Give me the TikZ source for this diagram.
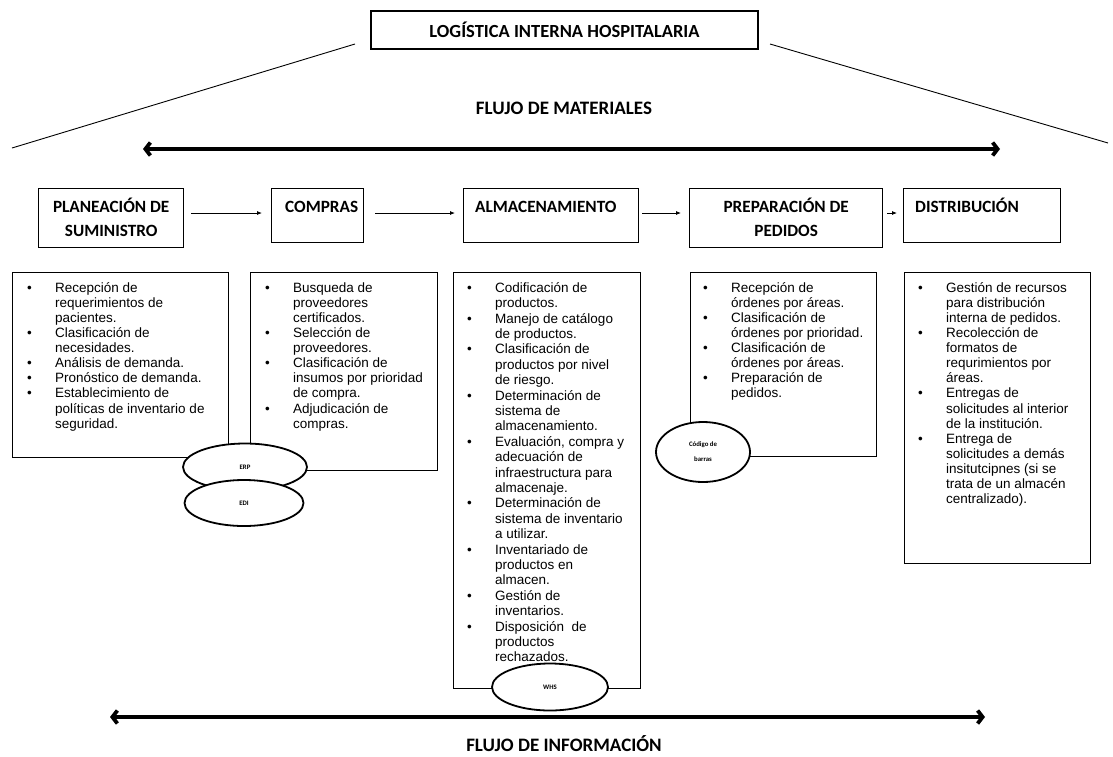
\documentclass[tikz,border=0pt]{standalone}
\usepackage{fontspec}
\setmainfont{Liberation Sans}
\newfontfamily\calib{Carlito}
\usetikzlibrary{arrows.meta,shapes.geometric}

% list lines: bullet line and continuation line, fixed indent
\newcommand\bi{\makebox[28pt][l]{\textbullet}}
\newcommand\ci{\hspace*{28pt}}
\newcommand\firstline{\rule{0pt}{11pt}}
\newcommand\hs{\rule{0pt}{16pt}}
% keep list lines at exactly one baselineskip apart
\newcommand\evenlines{\lineskiplimit=-100pt\relax}

\tikzset{
  titlebox/.style={draw=black, line width=1.3pt, inner sep=0pt,
    font=\calib\bfseries\fontsize{18.5}{22}\selectfont},
  hbox/.style={draw=black, line width=1.4pt, anchor=north west, inner sep=0pt},
  htext/.style={font=\calib\bfseries\fontsize{17.2}{24}\selectfont, inner sep=0pt, align=center},
  cbox/.style={draw=black, line width=1.1pt, fill=white, anchor=north west, inner sep=0pt},
  listtext/.style={font=\fontsize{13.5}{#1}\selectfont\evenlines,
    inner sep=0pt, anchor=north west, align=left},
  listtext/.default=15.1,
  ell/.style={ellipse, draw=black, line width=1.8pt, fill=white, inner sep=0pt,
    font=\calib\bfseries\fontsize{6.8}{15}\selectfont, align=center},
  bigflow/.style={line width=3.8pt,
    {Straight Barb[length=5pt,width=13pt]}-{Straight Barb[length=5pt,width=13pt]}},
  steparrow/.style={line width=0.8pt, -{Latex[length=5pt,width=4pt]}},
  slant/.style={line width=0.9pt},
  flowlabel/.style={font=\calib\bfseries\fontsize{19}{22}\selectfont, inner sep=0pt}
}

\begin{document}
\begin{tikzpicture}[x=1pt,y=-1pt]
\useasboundingbox (0,0) rectangle (1113,756);

% ---- title and the two slanted lines
\node[titlebox, minimum width=387pt, minimum height=38pt] (title) at (564.5,30)
  {LOGÍSTICA INTERNA HOSPITALARIA};
\coordinate (lt) at (355,44);  \coordinate (lb) at (12,148);
\coordinate (rt) at (770,44);  \coordinate (rb) at (1108,143);
\draw[slant] (lt) -- (lb);
\draw[slant] (rt) -- (rb);

% ---- material flow
\node[flowlabel] (fm) at (564,108) {FLUJO DE MATERIALES};
\coordinate (fmL) at (143,149);  \coordinate (fmR) at (1000,149);
\draw[bigflow] (fmL) -- (fmR);

% ---- process headers
\node[hbox, minimum width=145pt, minimum height=59pt] (h1) at (38,188) {};
\node[htext, anchor=north] (t1) at ([yshift=-8pt]h1.north) {\hs PLANEACIÓN DE\\SUMINISTRO};

\node[hbox, minimum width=92pt, minimum height=54pt] (h2) at (271,188) {};
\node[htext, anchor=north west] (t2) at ([xshift=14pt,yshift=-8pt]h2.north west) {\hs COMPRAS};

\node[hbox, minimum width=175pt, minimum height=54pt] (h3) at (463,188) {};
\node[htext, anchor=north west] (t3) at ([xshift=12pt,yshift=-8pt]h3.north west) {\hs ALMACENAMIENTO};

\node[hbox, minimum width=193pt, minimum height=59pt] (h4) at (689,188) {};
\node[htext, anchor=north] (t4) at ([yshift=-8pt]h4.north) {\hs PREPARACIÓN DE\\PEDIDOS};

\node[hbox, minimum width=157pt, minimum height=54pt] (h5) at (903,188) {};
\node[htext, anchor=north west] (t5) at ([xshift=12pt,yshift=-8pt]h5.north west) {\hs DISTRIBUCIÓN};

\coordinate (ay) at (0,213);
\draw[steparrow, shorten <=7pt, shorten >=9pt] (h1.east |- ay) -- (h2.west |- ay);
\draw[steparrow, shorten <=11pt, shorten >=8pt] (h2.east |- ay) -- (h3.west |- ay);
\draw[steparrow, shorten <=3pt, shorten >=8pt] (h3.east |- ay) -- (h4.west |- ay);
\draw[steparrow, shorten <=4pt, shorten >=6pt] (h4.east |- ay) -- (h5.west |- ay);

% ---- activity boxes
\node[cbox, minimum width=216pt, minimum height=185pt] (ca) at (12,272) {};
\node[listtext] (la) at ([xshift=15pt,yshift=-9pt]ca.north west) {%
  \firstline\bi Recepción de\\
  \ci requerimientos de\\
  \ci pacientes.\\
  \bi Clasificación de\\
  \ci necesidades.\\
  \bi Análisis de demanda.\\
  \bi Pronóstico de demanda.\\
  \bi Establecimiento de\\
  \ci políticas de inventario de\\
  \ci seguridad.};

\node[cbox, minimum width=187pt, minimum height=198pt] (cb) at (250,272) {};
\node[listtext] (lb2) at ([xshift=15pt,yshift=-9pt]cb.north west) {%
  \firstline\bi Busqueda de\\
  \ci proveedores\\
  \ci certificados.\\
  \bi Selección de\\
  \ci proveedores.\\
  \bi Clasificación de\\
  \ci insumos por prioridad\\
  \ci de compra.\\
  \bi Adjudicación de\\
  \ci compras.};

\node[cbox, minimum width=187pt, minimum height=416pt] (cc) at (453,272) {};
\node[listtext=15.4] (lc) at ([xshift=14pt,yshift=-9pt]cc.north west) {%
  \firstline\bi Codificación de\\
  \ci productos.\\
  \bi Manejo de catálogo\\
  \ci de productos.\\
  \bi Clasificación de\\
  \ci productos por nivel\\
  \ci de riesgo.\\
  \bi Determinación de\\
  \ci sistema de\\
  \ci almacenamiento.\\
  \bi Evaluación, compra y\\
  \ci adecuación de\\
  \ci infraestructura para\\
  \ci almacenaje.\\
  \bi Determinación de\\
  \ci sistema de inventario\\
  \ci a utilizar.\\
  \bi Inventariado de\\
  \ci productos en\\
  \ci almacen.\\
  \bi Gestión de\\
  \ci inventarios.\\
  \bi Disposición \ de\\
  \ci productos\\
  \ci rechazados.};

\node[cbox, minimum width=186pt, minimum height=184pt] (cd) at (690,272) {};
\node[listtext=15] (ld) at ([xshift=13pt,yshift=-9pt]cd.north west) {%
  \firstline\bi Recepción de\\
  \ci órdenes por áreas.\\
  \bi Clasificación de\\
  \ci órdenes por prioridad.\\
  \bi Clasificación de\\
  \ci órdenes por áreas.\\
  \bi Preparación de\\
  \ci pedidos.};

\node[cbox, minimum width=186pt, minimum height=291pt] (ce) at (904,272) {};
\node[listtext] (le) at ([xshift=14pt,yshift=-9pt]ce.north west) {%
  \firstline\bi Gestión de recursos\\
  \ci para distribución\\
  \ci interna de pedidos.\\
  \bi Recolección de\\
  \ci formatos de\\
  \ci requrimientos por\\
  \ci áreas.\\
  \bi Entregas de\\
  \ci solicitudes al interior\\
  \ci de la institución.\\
  \bi Entrega de\\
  \ci solicitudes a demás\\
  \ci insitutcipnes (si se\\
  \ci trata de un almacén\\
  \ci centralizado).};

% ---- information systems
\node[ell, minimum width=124pt, minimum height=47pt] (erp) at (245,467) {ERP};
\node[ell, minimum width=119pt, minimum height=46pt] (edi) at (244,503) {EDI};
\node[ell, minimum width=94pt, minimum height=60pt] (cod) at (703,452) {Código de\\barras};
\node[ell, minimum width=116pt, minimum height=47pt] (whs) at (550,687) {WHS};

% ---- information flow
\coordinate (fiL) at (110,717);  \coordinate (fiR) at (985,717);
\draw[bigflow] (fiL) -- (fiR);
\node[flowlabel] (fi) at (564,744) {FLUJO DE INFORMACIÓN};

\end{tikzpicture}
\end{document}
